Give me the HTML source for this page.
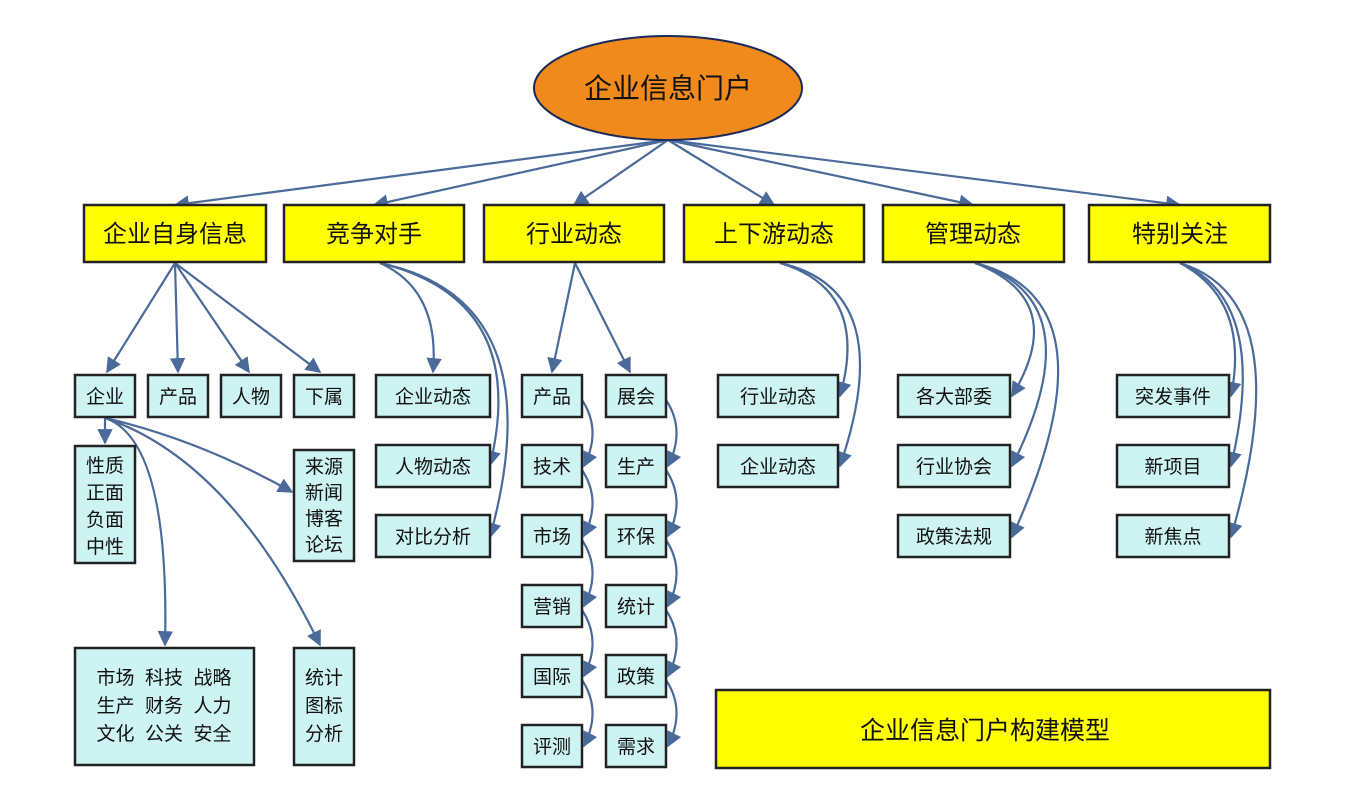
<!DOCTYPE html>
<html><head><meta charset="utf-8"><style>
body{margin:0;background:#fff}
svg text{font-family:"Liberation Sans","Noto Sans CJK SC",sans-serif;fill:#111}
</style></head><body>
<svg width="1346" height="800" viewBox="0 0 1346 800" xmlns="http://www.w3.org/2000/svg">
<defs><marker id="a" viewBox="0 0 10 10" refX="9" refY="5" markerWidth="7" markerHeight="7" orient="auto-start-reverse"><path d="M0,0L10,5L0,10z" fill="#4a6a9a"/></marker></defs>
<g fill="none" stroke="#4a6a9a" stroke-width="2.2" marker-end="url(#a)">
<path d="M668,140L175,205"/><path d="M668,140L374,205"/><path d="M668,140L574,205"/><path d="M668,140L774,205"/><path d="M668,140L973,205"/><path d="M668,140L1180,205"/>
<path d="M175,263L107,372"/><path d="M175,263L178,372"/><path d="M175,263L249,372"/><path d="M175,263L320,372"/>
<path d="M380,263Q440,290 433,372"/><path d="M380,263Q530,300 490,465"/><path d="M380,263Q555,300 490,537"/>
<path d="M575,263L552,372"/><path d="M575,263L630,372"/>
<path d="M582,400Q602,430 584,466"/><path d="M582,470Q602,500 584,536"/><path d="M582,540Q602,570 584,606"/><path d="M582,610Q602,640 584,676"/><path d="M582,680Q602,710 584,746"/>
<path d="M666,400Q686,430 668,466"/><path d="M666,470Q686,500 668,536"/><path d="M666,540Q686,570 668,606"/><path d="M666,610Q686,640 668,676"/><path d="M666,680Q686,710 668,746"/>
<path d="M780,263Q870,290 840,396"/><path d="M780,263Q900,290 840,466"/>
<path d="M975,263Q1070,300 1012,396"/><path d="M975,263Q1095,300 1012,466"/><path d="M975,263Q1120,300 1012,537"/>
<path d="M1180,263Q1250,300 1231,396"/><path d="M1180,263Q1270,300 1231,466"/><path d="M1180,263Q1300,300 1231,537"/>
<path d="M105,418L105,443"/><path d="M105,418Q200,440 292,492"/><path d="M105,418Q170,440 165,645"/><path d="M105,418Q230,460 320,645"/>
</g>
<ellipse cx="668" cy="88" rx="134" ry="52" fill="#f08a1c" stroke="#1a2a5a" stroke-width="2"/>
<text x="668" y="98" font-size="28" text-anchor="middle">企业信息门户</text>
<g fill="#ffff00" stroke="#222" stroke-width="2.5">
<rect x="84" y="205" width="182" height="57"/><rect x="284" y="205" width="180" height="57"/><rect x="484" y="205" width="180" height="57"/><rect x="684" y="205" width="180" height="57"/><rect x="883" y="205" width="181" height="57"/><rect x="1089" y="205" width="181" height="57"/>
<rect x="716" y="690" width="554" height="78"/>
</g>
<g font-size="24" text-anchor="middle">
<text x="175" y="242">企业自身信息</text><text x="374" y="242">竞争对手</text><text x="574" y="242">行业动态</text><text x="774" y="242">上下游动态</text><text x="973" y="242">管理动态</text><text x="1180" y="242">特别关注</text>
<text x="985" y="739" font-size="25">企业信息门户构建模型</text>
</g>
<g fill="#cdf3f3" stroke="#222" stroke-width="2.5">
<rect x="75" y="375" width="60" height="42"/><rect x="148" y="375" width="60" height="42"/><rect x="221" y="375" width="60" height="42"/><rect x="294" y="375" width="60" height="42"/>
<rect x="75" y="446" width="60" height="117"/><rect x="294" y="450" width="60" height="111"/>
<rect x="75" y="648" width="179" height="117"/><rect x="294" y="648" width="60" height="117"/>
<rect x="376" y="375" width="114" height="42"/><rect x="376" y="445" width="114" height="42"/><rect x="376" y="515" width="114" height="42"/>
<rect x="522" y="375" width="60" height="42"/><rect x="522" y="445" width="60" height="42"/><rect x="522" y="515" width="60" height="42"/><rect x="522" y="585" width="60" height="42"/><rect x="522" y="655" width="60" height="42"/><rect x="522" y="725" width="60" height="42"/>
<rect x="606" y="375" width="60" height="42"/><rect x="606" y="445" width="60" height="42"/><rect x="606" y="515" width="60" height="42"/><rect x="606" y="585" width="60" height="42"/><rect x="606" y="655" width="60" height="42"/><rect x="606" y="725" width="60" height="42"/>
<rect x="718" y="375" width="120" height="42"/><rect x="718" y="445" width="120" height="42"/>
<rect x="898" y="375" width="112" height="42"/><rect x="898" y="445" width="112" height="42"/><rect x="898" y="515" width="112" height="42"/>
<rect x="1117" y="375" width="112" height="42"/><rect x="1117" y="445" width="112" height="42"/><rect x="1117" y="515" width="112" height="42"/>
</g>
<g font-size="19" text-anchor="middle">
<text x="105" y="403">企业</text><text x="178" y="403">产品</text><text x="251" y="403">人物</text><text x="324" y="403">下属</text>
<text x="105" y="472">性质</text><text x="105" y="499">正面</text><text x="105" y="526">负面</text><text x="105" y="553">中性</text>
<text x="324" y="473">来源</text><text x="324" y="499">新闻</text><text x="324" y="525">博客</text><text x="324" y="551">论坛</text>
<text x="164" y="684" xml:space="preserve">市场  科技  战略</text><text x="164" y="712" xml:space="preserve">生产  财务  人力</text><text x="164" y="740" xml:space="preserve">文化  公关  安全</text>
<text x="324" y="684">统计</text><text x="324" y="712">图标</text><text x="324" y="740">分析</text>
<text x="433" y="403">企业动态</text><text x="433" y="473">人物动态</text><text x="433" y="543">对比分析</text>
<text x="552" y="403">产品</text><text x="552" y="473">技术</text><text x="552" y="543">市场</text><text x="552" y="613">营销</text><text x="552" y="683">国际</text><text x="552" y="753">评测</text>
<text x="636" y="403">展会</text><text x="636" y="473">生产</text><text x="636" y="543">环保</text><text x="636" y="613">统计</text><text x="636" y="683">政策</text><text x="636" y="753">需求</text>
<text x="778" y="403">行业动态</text><text x="778" y="473">企业动态</text>
<text x="954" y="403">各大部委</text><text x="954" y="473">行业协会</text><text x="954" y="543">政策法规</text>
<text x="1173" y="403">突发事件</text><text x="1173" y="473">新项目</text><text x="1173" y="543">新焦点</text>
</g>
</svg>
</body></html>
